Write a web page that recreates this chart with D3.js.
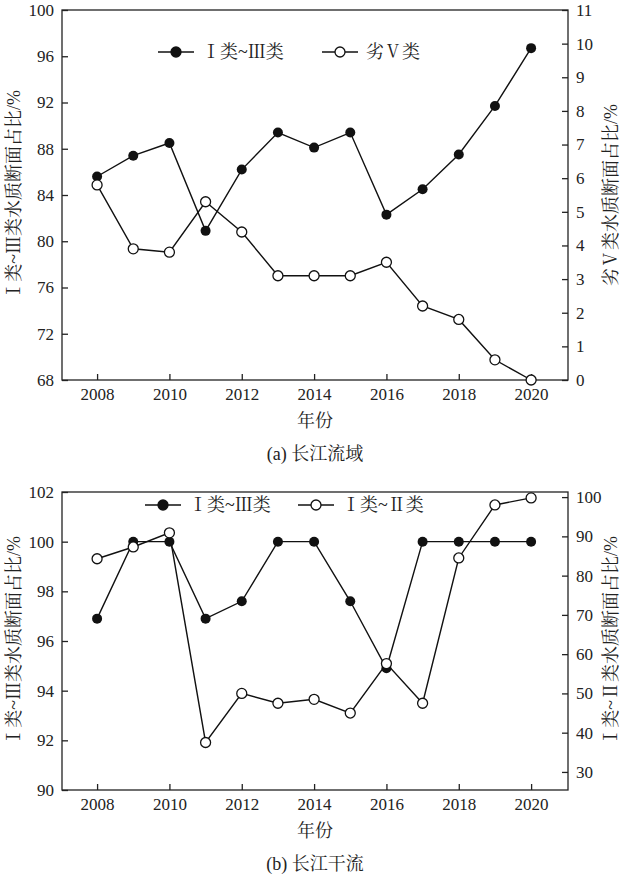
<!DOCTYPE html><html><head><meta charset="utf-8">
<script src="https://cdn.jsdelivr.net/npm/d3@7"></script>
<style>body{margin:0;background:#fff}text{font-family:"Liberation Serif","Noto Serif CJK SC","Noto Sans CJK SC",serif;fill:#222}</style>
</head><body><svg id="c" width="636" height="874"></svg>
<script>
const years=[2008,2009,2010,2011,2012,2013,2014,2015,2016,2017,2018,2019,2020];
const xTicks=[2008,2010,2012,2014,2016,2018,2020];
const a_I_III=[85.6,87.4,88.5,80.9,86.2,89.4,88.1,89.4,82.3,84.5,87.5,91.7,96.7];
const a_V=[5.8,3.9,3.8,5.3,4.4,3.1,3.1,3.1,3.5,2.2,1.8,0.6,0];
const b_I_III=[96.9,100,100,96.9,97.6,100,100,97.6,94.9,100,100,100,100];
const b_I_II=[84.3,87.3,90.9,37.5,50,47.5,48.5,45,57.6,47.5,84.5,98,99.8];
const aLeftTicks=[68,72,76,80,84,88,92,96,100];
const aRightTicks=[0,1,2,3,4,5,6,7,8,9,10,11];
const bLeftTicks=[90,92,94,96,98,100,102];
const bRightTicks=[30,40,50,60,70,80,90,100];
const svg=d3.select("#c");
const x=d3.scaleLinear().domain([2007.03,2021.02]).range([62,568]);
function panel(o){
  const g=svg.append("g");
  const yl=d3.scaleLinear().domain(o.ld).range([o.bot,o.top]);
  const yr=d3.scaleLinear().domain(o.rd).range([o.bot,o.top]);
  g.append("rect").attr("x",62).attr("y",o.top).attr("width",506).attr("height",o.bot-o.top).attr("fill","none").attr("stroke","#222").attr("stroke-width",1.3);
  const L=g.append("g").attr("transform","translate(62,0)").call(d3.axisLeft(yl).tickValues(o.lt).tickSize(-6).tickPadding(8));
  const R=g.append("g").attr("transform","translate(568,0)").call(d3.axisRight(yr).tickValues(o.rt).tickSize(-6).tickPadding(8));
  const B=g.append("g").attr("transform",`translate(0,${o.bot})`).call(d3.axisBottom(x).tickValues(xTicks).tickFormat(d3.format("d")).tickSize(-6).tickPadding(8));
  [L,R,B].forEach(a=>{a.select(".domain").remove();a.selectAll("line").attr("stroke","#222").attr("stroke-width",1.3);a.selectAll("text").attr("font-size",17).style("font-family",'"Liberation Serif",serif').attr("fill","#222");});
  const line1=d3.line().x((d,i)=>x(years[i])).y(d=>yl(d));
  const line2=d3.line().x((d,i)=>x(years[i])).y(d=>yr(d));
  g.append("path").attr("d",line1(o.s1)).attr("fill","none").attr("stroke","#111").attr("stroke-width",1.4);
  g.append("path").attr("d",line2(o.s2)).attr("fill","none").attr("stroke","#111").attr("stroke-width",1.4);
  g.selectAll(".p1").data(o.s1).join("circle").attr("cx",(d,i)=>x(years[i])).attr("cy",d=>yl(d)).attr("r",5).attr("fill","#111");
  g.selectAll(".p2").data(o.s2).join("circle").attr("cx",(d,i)=>x(years[i])).attr("cy",d=>yr(d)).attr("r",5).attr("fill","#fff").attr("stroke","#111").attr("stroke-width",1.3);
  const lg=[[o.lx1,o.n1,true],[o.lx2,o.n2,false]];
  lg.forEach(([lx,n,f])=>{
    g.append("line").attr("x1",lx).attr("x2",lx+36).attr("y1",o.ly).attr("y2",o.ly).attr("stroke","#111").attr("stroke-width",1.4);
    g.append("circle").attr("cx",lx+18).attr("cy",o.ly).attr("r",5).attr("fill",f?"#111":"#fff").attr("stroke","#111").attr("stroke-width",1.3);
    g.append("text").attr("x",lx+44).attr("y",o.ly+6).attr("font-size",18).text(n);
  });
  g.append("text").attr("x",315).attr("y",o.bot+47).attr("text-anchor","middle").attr("font-size",18).text("年份");
  g.append("text").attr("x",315).attr("y",o.bot+80).attr("text-anchor","middle").attr("font-size",18).text(o.cap);
  const cy=(o.top+o.bot)/2;
  g.append("text").attr("transform",`translate(20,${cy}) rotate(-90)`).attr("text-anchor","middle").attr("font-size",18).text(o.yl);
  g.append("text").attr("transform",`translate(617,${cy}) rotate(-90)`).attr("text-anchor","middle").attr("font-size",18).text(o.yr);
}
panel({top:10,bot:380,ld:[68,100],rd:[0,11],lt:aLeftTicks,rt:aRightTicks,s1:a_I_III,s2:a_V,
  lx1:158,lx2:322,ly:52,n1:"Ⅰ类~Ⅲ类",n2:"劣Ⅴ类",cap:"(a) 长江流域",yl:"Ⅰ类~Ⅲ类水质断面占比/%",yr:"劣Ⅴ类水质断面占比/%"});
panel({top:492,bot:790,ld:[90,102],rd:[25.4,101.3],lt:bLeftTicks,rt:bRightTicks,s1:b_I_III,s2:b_I_II,
  lx1:145,lx2:298,ly:505,n1:"Ⅰ类~Ⅲ类",n2:"Ⅰ类~Ⅱ类",cap:"(b) 长江干流",yl:"Ⅰ类~Ⅲ类水质断面占比/%",yr:"Ⅰ类~Ⅱ类水质断面占比/%"});
</script></body></html>
